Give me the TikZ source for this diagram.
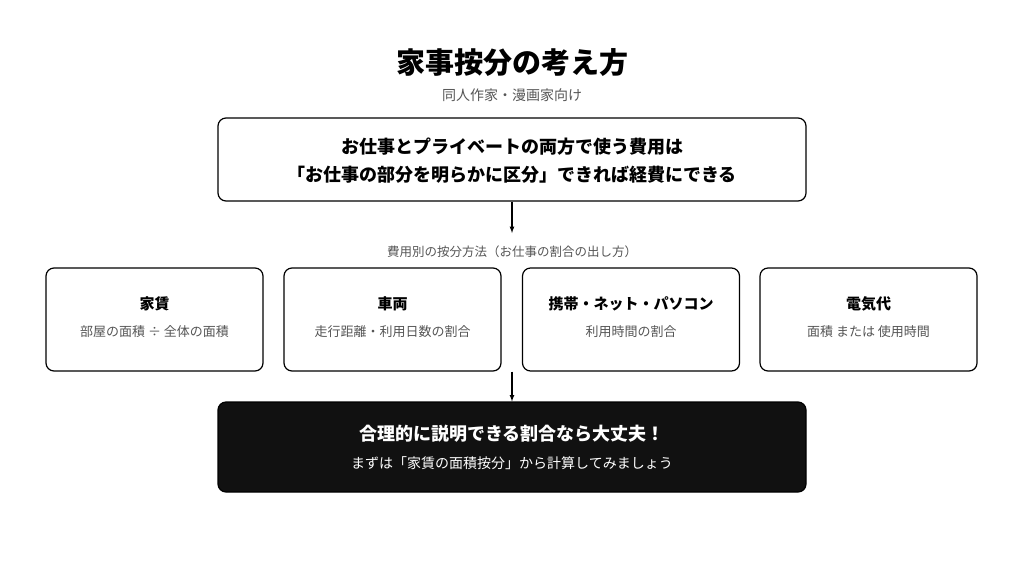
\documentclass[tikz,border=0pt]{standalone}
\usepackage{fontspec}
\setmainfont{Noto Sans CJK JP}
\usepackage{xcolor}
\usepackage{tikz}
\usetikzlibrary{shapes.geometric, arrows, positioning}
\definecolor{subgray}{HTML}{555555}
\definecolor{darkbox}{HTML}{111111}

\begin{document}
\begin{tikzpicture}[x=1pt, y=-1pt, line width=1.2pt,
    box/.style={draw, rounded corners=8pt, minimum width=217pt, minimum height=103pt, inner sep=0pt},
    wide/.style={draw, rounded corners=8pt, minimum width=588pt, inner sep=0pt},
    title/.style={font=\bfseries\fontsize{15}{18}\selectfont},
    sub/.style={text=subgray, font=\fontsize{13}{16}\selectfont},
    flow/.style={-latex, line width=1.2pt}]
    \useasboundingbox (0,0) rectangle (1024,576);

    \node (head) at (512,63) {\bfseries\fontsize{29}{34}\selectfont 家事按分の考え方};
    \node[sub, font=\fontsize{14}{17}\selectfont] (target) at (512,95) {同人作家・漫画家向け};

    \node[wide, minimum height=83pt] (rule) at (512,159.5) {};
    \node[font=\bfseries\fontsize{18}{28}\selectfont, align=center] (ruletext) at (512,161)
        {お仕事とプライベートの両方で使う費用は\\「お仕事の部分を明らかに区分」できれば経費にできる};

    \coordinate (methodtop) at (512,233);
    \node[sub, font=\fontsize{12.5}{15}\selectfont] (method) at (512,252) {費用別の按分方法（お仕事の割合の出し方）};

    \node[box] (rent) at (154.5,319.5) {};
    \node[box] (car) at (392.5,319.5) {};
    \node[box] (phone) at (631,319.5) {};
    \node[box] (power) at (868.5,319.5) {};

    \node[title] at (154.5,304) {家賃};
    \node[sub] at (154.5,332) {部屋の面積 ÷ 全体の面積};
    \node[title] at (392.5,304) {車両};
    \node[sub] at (392.5,332) {走行距離・利用日数の割合};
    \node[title] at (631,304) {携帯・ネット・パソコン};
    \node[sub] at (631,332) {利用時間の割合};
    \node[title] at (868.5,304) {電気代};
    \node[sub] at (868.5,332) {面積 または 使用時間};

    \node[wide, fill=darkbox, minimum height=90pt] (ok) at (512,447) {};
    \node[text=white, font=\bfseries\fontsize{18}{22}\selectfont] at (512,434) {合理的に説明できる割合なら大丈夫！};
    \node[text=white, font=\fontsize{14}{17}\selectfont] at (512,463) {まずは「家賃の面積按分」から計算してみましょう};

    \draw[flow] (rule.south) -- (methodtop);
    \draw[flow] (phone.south -| ok.north) -- (ok.north);
\end{tikzpicture}
\end{document}
